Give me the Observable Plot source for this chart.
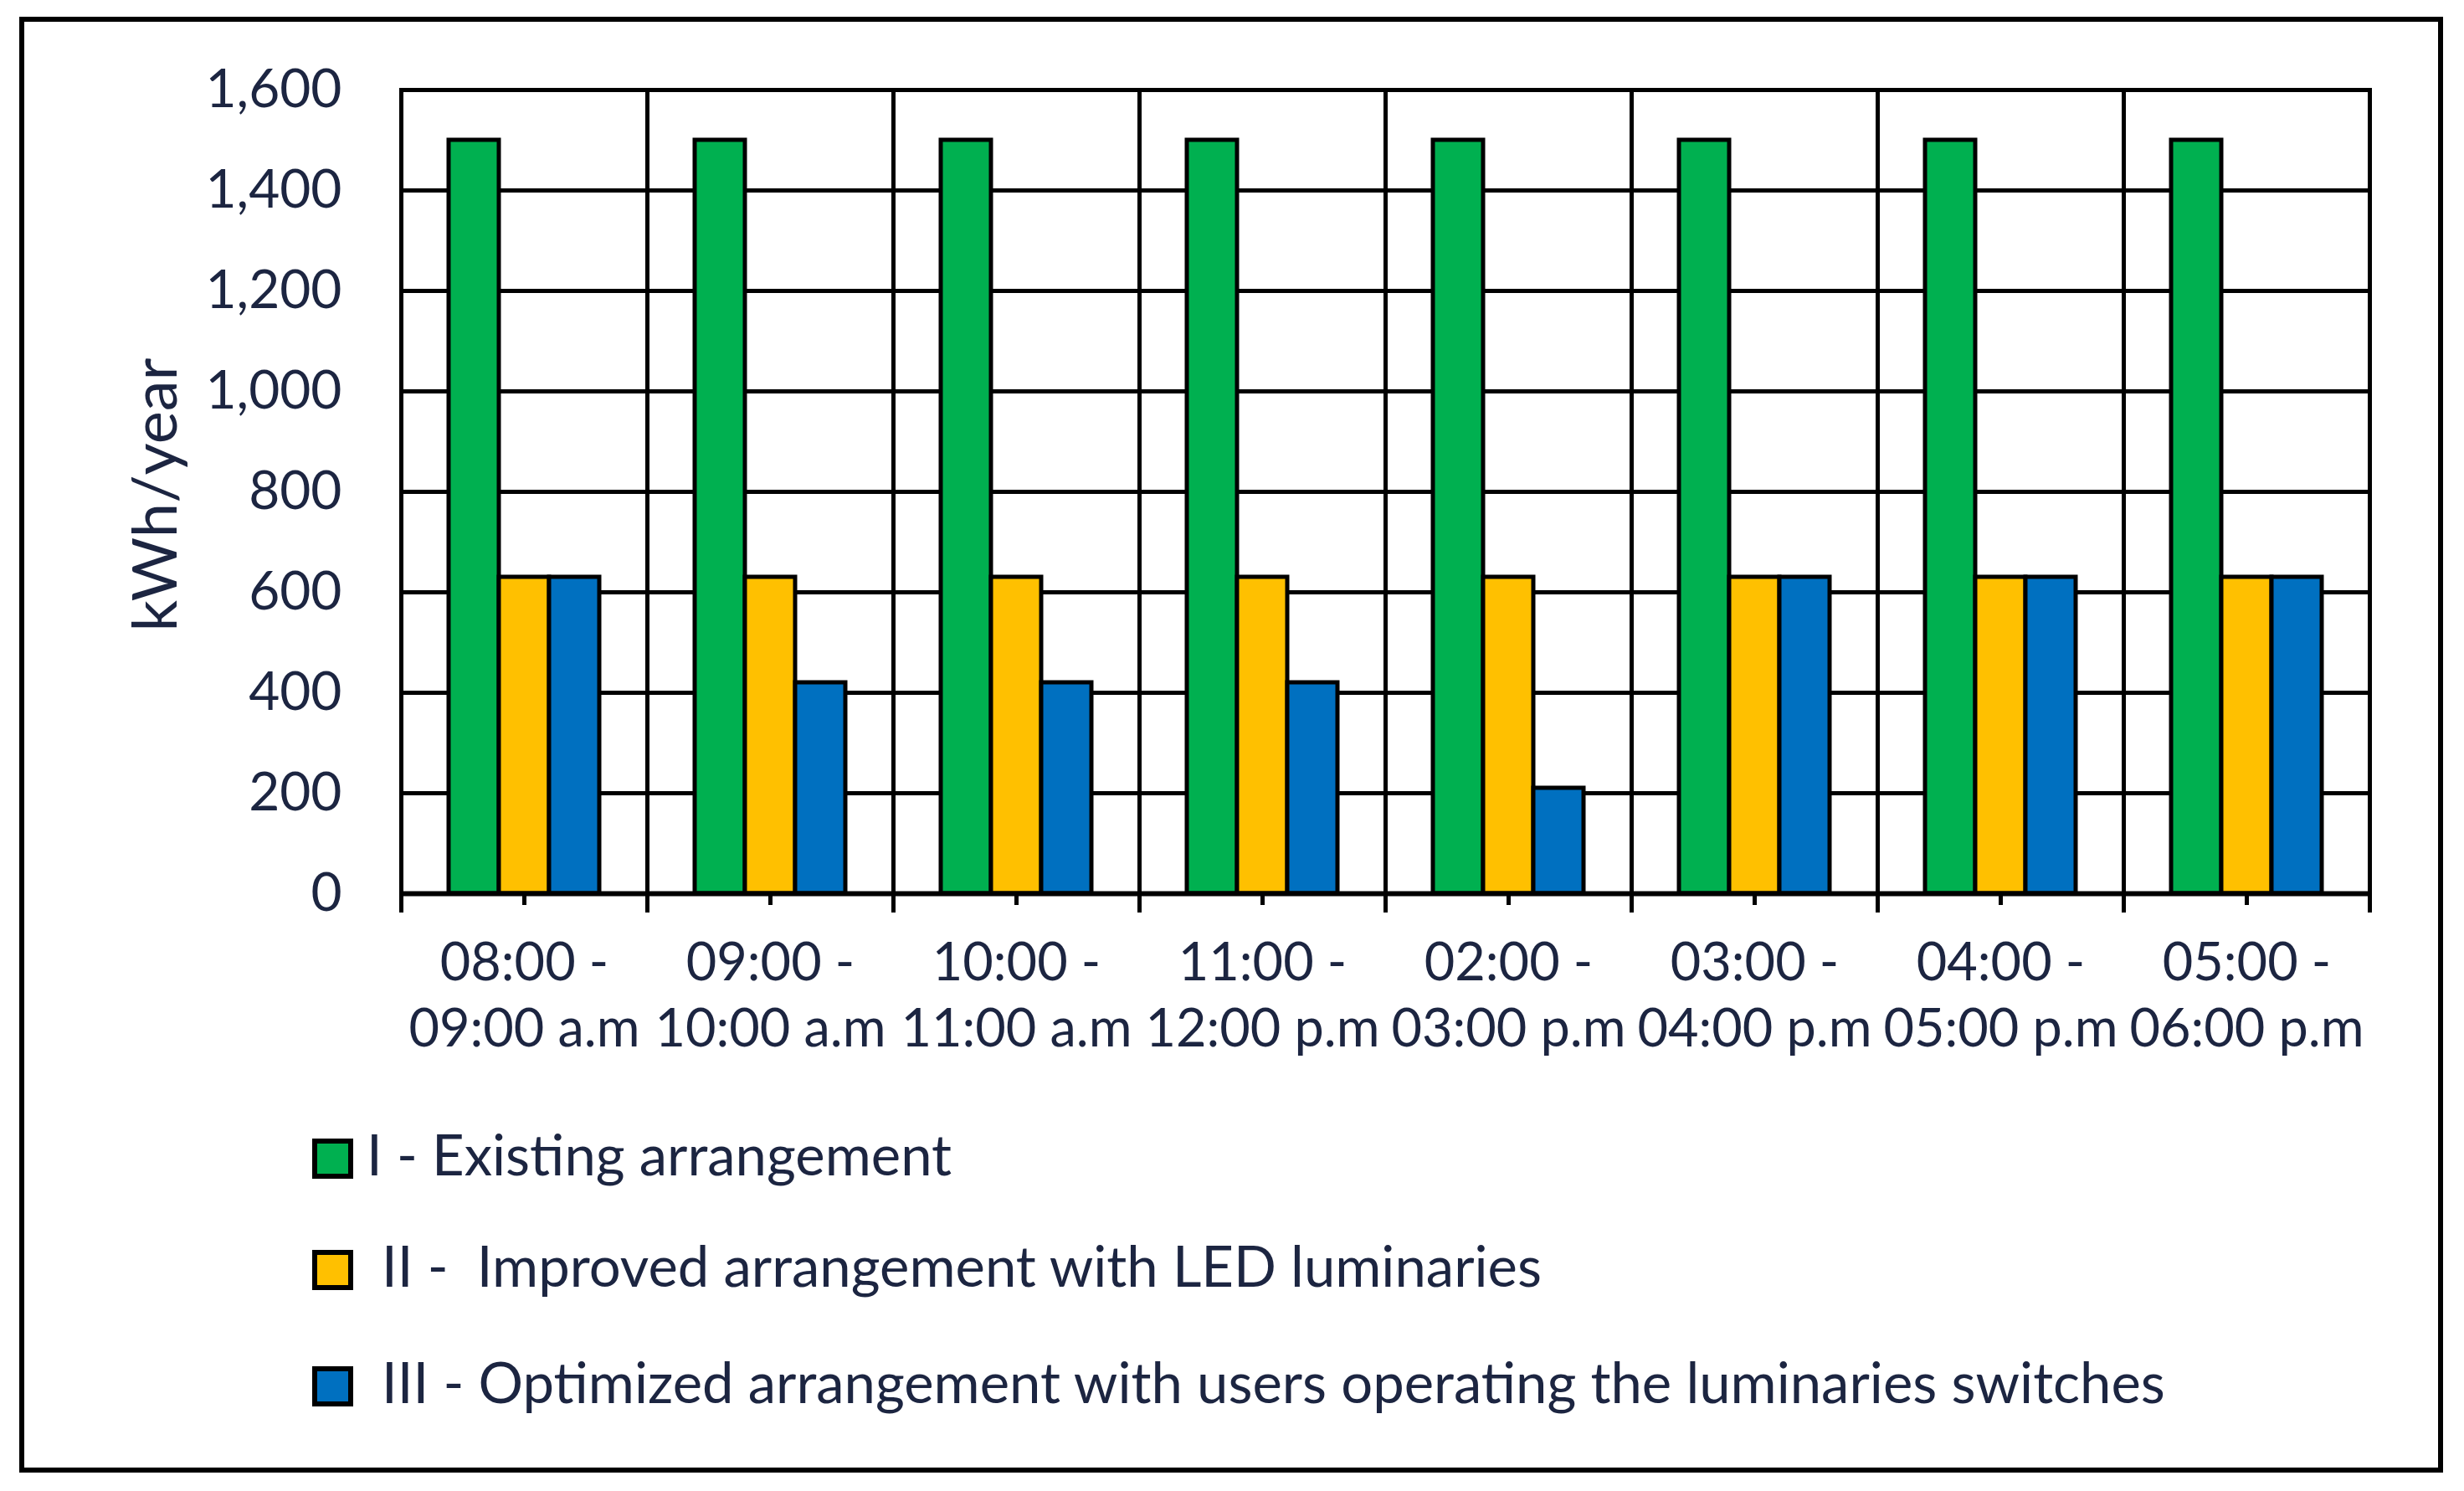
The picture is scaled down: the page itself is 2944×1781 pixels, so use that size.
<!DOCTYPE html>
<html>
<head>
<meta charset="utf-8">
<script src="https://cdn.jsdelivr.net/npm/d3@7"></script>
<script src="https://cdn.jsdelivr.net/npm/@observablehq/plot@0.6"></script>
<style>
  html, body { margin: 0; padding: 0; background: #ffffff; }
  body { width: 2944px; height: 1781px; position: relative; overflow: hidden; font-family: Lato, "Open Sans", sans-serif; }
  #frame { position: absolute; left: 23px; top: 20px; width: 2896px; height: 1739px; border: 6px solid #000; box-sizing: border-box; }
  #chart { position: absolute; left: 0; top: 0; }
  #ylabel { position: absolute; left: 182px; top: 591px; transform: translate(-50%, -50%) rotate(-90deg); font-size: 74px; color: #1c2541; white-space: nowrap; }
  .lg-swatch { position: absolute; left: 373px; width: 49px; height: 48px; border: 6px solid #000; box-sizing: border-box; }
  .lg-text { position: absolute; font-size: 67px; color: #1c2541; white-space: pre; line-height: 1; }
</style>
</head>
<body>
<div id="frame"></div>
<div id="chart"></div>
<div id="ylabel">kWh/year</div>
<div id="legend"></div>
<script>
// ---- data ----
const categories = [
  "08:00 -\n09:00 a.m",
  "09:00 -\n10:00 a.m",
  "10:00 -\n11:00 a.m",
  "11:00 -\n12:00 p.m",
  "02:00 -\n03:00 p.m",
  "03:00 -\n04:00 p.m",
  "04:00 -\n05:00 p.m",
  "05:00 -\n06:00 p.m"
];
const seriesKeys = ["I", "II", "III"];
const seriesLabels = [
  "I - Existing arrangement",
  "II -  Improved arrangement with LED luminaries",
  "III - Optimized arrangement with users operating the luminaries switches"
];
const existing  = [1500, 1500, 1500, 1500, 1500, 1500, 1500, 1500];
const improved  = [630, 630, 630, 630, 630, 630, 630, 630];
const optimized = [630, 420, 420, 420, 210, 630, 630, 630];
const seriesColors = ["#00b050", "#ffc000", "#0070c0"];
const yTicks = [0, 200, 400, 600, 800, 1000, 1200, 1400, 1600];

// ---- build table ----
const valuesBySeries = [existing, improved, optimized];
const rows = categories.flatMap((c, i) =>
  seriesKeys.map((s, j) => ({cat: c, s, v: valuesBySeries[j][i]}))
);

const textColor = "#1c2541";
const chart = Plot.plot({
  width: 2944,
  height: 1300,
  marginLeft: 479,
  marginRight: 113,
  marginTop: 107,
  marginBottom: 233,
  style: {fontFamily: "Lato, 'Open Sans', sans-serif", fontSize: "64px", color: textColor, background: "transparent"},
  fx: {domain: categories, padding: 0, label: null},
  x: {domain: seriesKeys, paddingInner: 0, paddingOuter: 0.93, axis: null},
  y: {domain: [0, 1600], label: null},
  color: {domain: seriesKeys, range: seriesColors},
  marks: [
    Plot.gridY(yTicks, {stroke: "#000", strokeOpacity: 1, strokeWidth: 5}),
    Plot.frame({anchor: "left", stroke: "#000", strokeWidth: 5, insetBottom: -20}),
    Plot.frame({anchor: "right", stroke: "#000", strokeWidth: 5, insetBottom: -20}),
    Plot.barY(rows, {fx: "cat", x: "s", y: "v", fill: "s", stroke: "#000", strokeWidth: 5}),
    Plot.ruleY([0], {stroke: "#000", strokeWidth: 6}),
    Plot.axisY({ticks: yTicks, tickFormat: d3.format(","), tickSize: 0, tickPadding: 71, label: null, fontSize: 64, fill: textColor}),
    Plot.axisFx({anchor: "bottom", tickSize: 14, tickPadding: 33, lineHeight: 1.26, label: null, fontSize: 63, strokeWidth: 5, stroke: "#000", fill: textColor})
  ]
});
document.getElementById("chart").appendChild(chart);

// ---- legend (HTML below the SVG area) ----
const rowCenters = [1384, 1517, 1656];
const textLefts = [438, 456, 456];
const legend = document.getElementById("legend");
seriesLabels.forEach((label, i) => {
  const sw = document.createElement("div");
  sw.className = "lg-swatch";
  sw.style.top = (rowCenters[i] - 24) + "px";
  sw.style.background = seriesColors[i];
  legend.appendChild(sw);
  const t = document.createElement("div");
  t.className = "lg-text";
  t.textContent = label;
  t.style.left = textLefts[i] + "px";
  t.style.top = (rowCenters[i] - 39) + "px";
  legend.appendChild(t);
});
</script>
</body>
</html>
